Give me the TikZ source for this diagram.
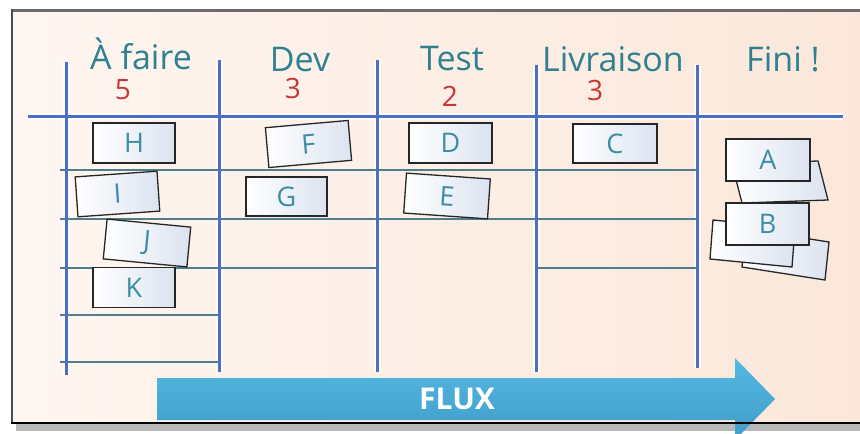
\documentclass[tikz,border=0pt]{standalone}
\usepackage{fontspec}
\setmainfont{Open Sans}
\definecolor{lineblue}{HTML}{4C6EC4}
\definecolor{rowline}{HTML}{4F7D8C}
\definecolor{headteal}{HTML}{2F8090}
\definecolor{cardteal}{HTML}{3D8DA4}
\definecolor{countred}{HTML}{C8343A}
\definecolor{cardtint}{HTML}{DCE3F0}
\definecolor{fluxtop}{HTML}{56B8E2}
\definecolor{fluxbot}{HTML}{3F9DC8}
\definecolor{bgleft}{HTML}{FEF6F1}
\definecolor{bgright}{HTML}{FBE7DA}
\begin{document}
\begin{tikzpicture}[x=1pt,y=-1pt,
  lane/.style={draw=lineblue, line width=3pt},
  row/.style={draw=rowline, line width=1.6pt},
  halo/.style={draw=white, draw opacity=.75, line width=7pt},
  card/.style={draw=black!85, line width=1.3pt, minimum width=82pt,
    minimum height=40pt, left color=white, right color=cardtint,
    text=cardteal, font=\fontsize{27}{30}\selectfont, inner sep=0pt},
  cardback/.style={draw=black!85, line width=1.3pt, left color=white,
    right color=cardtint},
  head/.style={text=headteal, font=\fontsize{34}{40}\selectfont,
    anchor=base, inner sep=0pt},
  count/.style={text=countred, font=\fontsize{28}{32}\selectfont,
    anchor=base, inner sep=0pt}]
\useasboundingbox (0,0) rectangle (860,434);
\clip (0,0) rectangle (860,434);

% board background and its shadow
\fill[gray!55] (16,424) rectangle (870,431);
\shade[left color=bgleft, right color=bgright] (12,10) rectangle (870,423);

% white glow under the lane lines
\draw[halo] (28,116) -- (843,116);
\foreach \x/\t/\b in {66/62/375, 219/60/372, 377/60/372, 536/65/372, 697/65/368}
  \draw[halo] (\x,\t) -- (\x,\b);

% row separators
\draw[row] (60,170) -- (696,170);
\draw[row] (60,219) -- (696,219);
\draw[row] (60,268) -- (377,268);
\draw[row] (536,268) -- (696,268);
\draw[row] (60,315) -- (219,315);
\draw[row] (60,362) -- (219,362);

% column dividers and header rule
\foreach \x/\t/\b in {66/62/375, 219/60/372, 377/60/372, 536/65/372, 697/65/368}
  \draw[lane] (\x,\t) -- (\x,\b);
\draw[lane] (28,116) -- (843,116);

% column titles and limits
\node[head] (todo) at (141,69) {À faire};
\node[head] (dev) at (300,71) {Dev};
\node[head] (test) at (452,70) {Test};
\node[head] (deliv) at (613,71) {Livraison};
\node[head] (done) at (783,71) {Fini !};
\node[count] (ntodo) at (123,99) {5};
\node[count] (ndev) at (293,98) {3};
\node[count] (ntest) at (450,106) {2};
\node[count] (ndeliv) at (595,100) {3};

% cards
\node[card] (H) at (134,143) {H};
\node[card, rotate=4] (I) at (117.5,194) {I};
\node[card, rotate=-5.5, minimum width=84pt] (J) at (147,243) {J};
\node[card] (K) at (134,287.5) {K};
\node[card, rotate=5, minimum width=83pt] (F) at (308.5,144) {F};
\node[card, minimum width=81pt, minimum height=39pt] (G) at (286.5,196.5) {G};
\node[card, minimum width=83pt] (D) at (450.5,143) {D};
\node[card, rotate=-4, minimum width=84pt] (E) at (447,196) {E};
\node[card, minimum width=84pt, minimum height=39pt] (C) at (615,143.5) {C};

% finished pile
\path[cardback] (732,164) -- (818,161) -- (828,200) -- (742,203) -- cycle;
\node[card, minimum width=84pt, minimum height=42pt] (A) at (768,160) {A};
\path[cardback] (746,229) -- (829,242) -- (825,280) -- (742,267) -- cycle;
\path[cardback] (713,220) -- (795,228) -- (792,267) -- (710,259) -- cycle;
\node[card, minimum width=83pt, minimum height=42pt] (B) at (767.5,224) {B};

% flow arrow
\shade[top color=fluxtop, bottom color=fluxbot]
  (157,378) -- (735,378) -- (735,358) -- (775,399) -- (735,440)
  -- (735,420) -- (157,420) -- cycle;
\node[text=white, font=\bfseries\fontsize{30}{34}\selectfont] (flux) at (457,399) {FLUX};

% board frame
\draw[gray!85!black, line width=3pt] (12,10) -- (870,10);
\draw[black!70, line width=2.5pt] (12,9) -- (12,423);
\draw[black, line width=2pt] (11,423) -- (870,423);
\end{tikzpicture}
\end{document}
